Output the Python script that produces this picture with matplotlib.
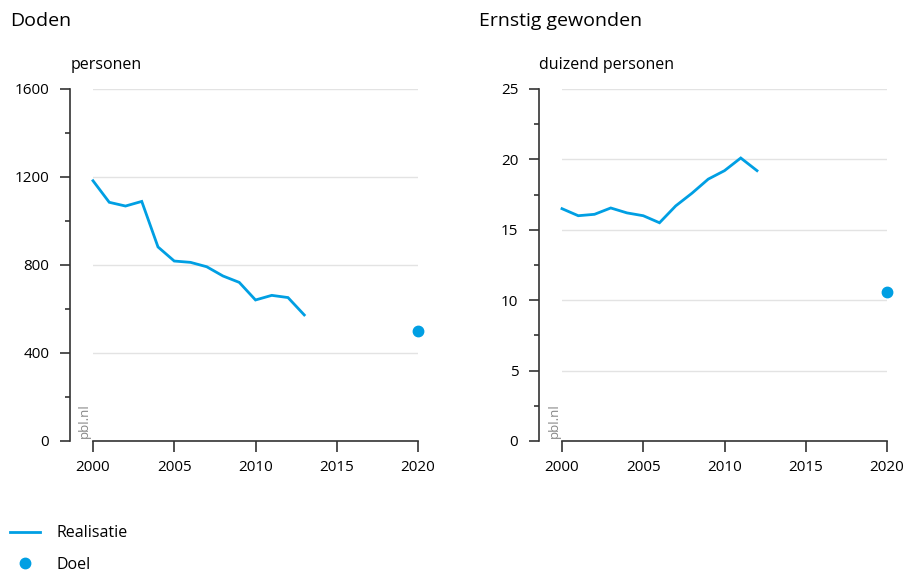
import matplotlib.pyplot as plt
from matplotlib.ticker import MultipleLocator
from matplotlib.lines import Line2D

plt.rcParams['font.family'] = ['Open Sans', 'DejaVu Sans']

years = [2000, 2001, 2002, 2003, 2004, 2005, 2006, 2007, 2008, 2009, 2010, 2011, 2012, 2013]
doden = [1183, 1085, 1068, 1089, 882, 818, 812, 792, 750, 721, 641, 662, 652, 573]
gewonden_years = years[:13]
gewonden = [16.5, 16.0, 16.1, 16.55, 16.2, 16.0, 15.5, 16.7, 17.6, 18.6, 19.2, 20.1, 19.2]
doel_year = 2020
doel_doden = 500
doel_gewonden = 10.6

blue = '#009fe3'
dark = '#333333'

fig = plt.figure(figsize=(9.07, 5.71), dpi=100)


def panel(left, x, y, goal, ymax, major, minor, title, unit):
    ax = fig.add_axes([left / 907, 130 / 571, 325 / 907, 352 / 571])
    ax.plot(x, y, color=blue, lw=2.0, solid_joinstyle='miter', clip_on=False)
    ax.plot([doel_year], [goal], 'o', color=blue, ms=7.5, clip_on=False)
    ax.set_xlim(2000, 2020)
    ax.set_ylim(0, ymax)
    ax.set_xticks([2000, 2005, 2010, 2015, 2020])
    ax.yaxis.set_major_locator(MultipleLocator(major))
    ax.yaxis.set_minor_locator(MultipleLocator(minor))
    ax.grid(axis='y', color='#e3e3e3', lw=1)
    ax.set_axisbelow(True)
    for s in ['top', 'right']:
        ax.spines[s].set_visible(False)
    ax.spines['left'].set_position(('outward', 16.5))
    ax.spines['left'].set_bounds(0, ymax)
    ax.spines['bottom'].set_bounds(2000, 2020)
    for s in ['left', 'bottom']:
        ax.spines[s].set_color(dark)
        ax.spines[s].set_linewidth(1.2)
    ax.tick_params(axis='y', which='major', length=7, width=1.2, color=dark, labelsize=11, pad=8)
    ax.tick_params(axis='y', which='minor', length=3.5, width=1.2, color=dark)
    ax.tick_params(axis='x', length=8, width=1.2, color=dark, labelsize=11, pad=6)
    ax.text(-0.045, 0.008, 'pbl.nl', transform=ax.transAxes, rotation=90,
            color='#888888', fontsize=9.5, ha='left', va='bottom')
    ax.text(-0.07, 1.045, unit, transform=ax.transAxes, fontsize=11.5, va='bottom')
    fig.text((left - 83) / 907, 1 - 21 / 571, title, fontsize=14, va='center')
    return ax


panel(93, years, doden, doel_doden, 1600, 400, 200, 'Doden', 'personen')
panel(562, gewonden_years, gewonden, doel_gewonden, 25, 5, 2.5, 'Ernstig gewonden', 'duizend personen')

handles = [Line2D([], [], color=blue, lw=2.0),
           Line2D([], [], color=blue, marker='o', ls='none', ms=7.5)]
fig.legend(handles, ['Realisatie', 'Doel'], loc='upper left',
           bbox_to_anchor=(-0.005, 1 - 511 / 571), frameon=False, fontsize=11.5,
           handlelength=1.9, handletextpad=1.05, labelspacing=0.95)

fig.savefig('out.png', dpi=100)
